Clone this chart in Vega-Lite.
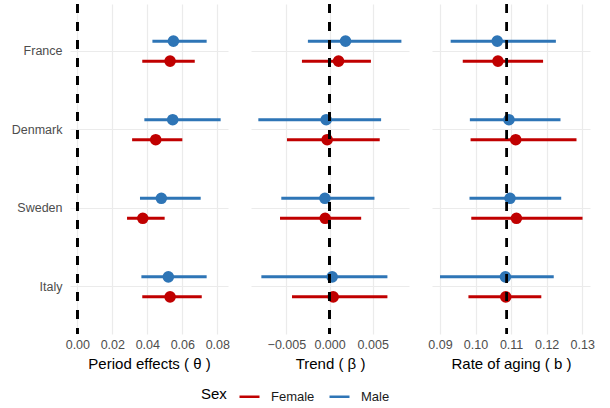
{
  "$schema": "https://vega.github.io/schema/vega-lite/v6.json",
  "padding": {"left": 11, "top": 3, "right": 5, "bottom": 5},
  "background": "white",
  "bounds": "flush",
  "config": {
    "font": "Liberation Sans",
    "view": {"stroke": null},
    "concat": {"spacing": 23},
    "axis": {"grid": true, "gridColor": "#EBEBEB", "gridWidth": 1.2, "domain": false, "ticks": false, "labelColor": "#4D4D4D", "labelFontSize": 12.5, "titleColor": "#000000", "titleFontSize": 15, "titleFontWeight": "normal", "labelFont": "Liberation Sans", "titleFont": "Liberation Sans", "labelOverlap": false, "labelFlush": false, "labelBound": false},
    "legend": {"orient": "none", "legendX": 131, "legendY": 381, "direction": "horizontal", "titleOrient": "left", "titleFontSize": 15, "titleFontWeight": "normal", "titleColor": "#000000", "titlePadding": 11, "labelFontSize": 13, "labelColor": "#1A1A1A", "symbolType": "stroke", "symbolStrokeWidth": 2.5, "symbolSize": 400, "columnPadding": 9, "labelOffset": 10}
  },
  "datasets": {
    "est": [
      {"panel": "theta", "country": "France", "sex": "Male", "est": 0.0549, "lo": 0.0429, "hi": 0.0739},
      {"panel": "theta", "country": "France", "sex": "Female", "est": 0.0530, "lo": 0.0371, "hi": 0.0671},
      {"panel": "theta", "country": "Denmark", "sex": "Male", "est": 0.0545, "lo": 0.0383, "hi": 0.0819},
      {"panel": "theta", "country": "Denmark", "sex": "Female", "est": 0.0448, "lo": 0.0313, "hi": 0.0600},
      {"panel": "theta", "country": "Sweden", "sex": "Male", "est": 0.0480, "lo": 0.0358, "hi": 0.0705},
      {"panel": "theta", "country": "Sweden", "sex": "Female", "est": 0.0374, "lo": 0.0284, "hi": 0.0499},
      {"panel": "theta", "country": "Italy", "sex": "Male", "est": 0.0520, "lo": 0.0366, "hi": 0.0739},
      {"panel": "theta", "country": "Italy", "sex": "Female", "est": 0.0530, "lo": 0.0371, "hi": 0.0711},
      {"panel": "beta", "country": "France", "sex": "Male", "est": 0.00185, "lo": -0.00251, "hi": 0.00832},
      {"panel": "beta", "country": "France", "sex": "Female", "est": 0.00104, "lo": -0.00320, "hi": 0.00479},
      {"panel": "beta", "country": "Denmark", "sex": "Male", "est": -0.00039, "lo": -0.00825, "hi": 0.00597},
      {"panel": "beta", "country": "Denmark", "sex": "Female", "est": -0.00028, "lo": -0.00493, "hi": 0.00581},
      {"panel": "beta", "country": "Sweden", "sex": "Male", "est": -0.00054, "lo": -0.00559, "hi": 0.00520},
      {"panel": "beta", "country": "Sweden", "sex": "Female", "est": -0.00051, "lo": -0.00574, "hi": 0.00366},
      {"panel": "beta", "country": "Italy", "sex": "Male", "est": 0.00030, "lo": -0.00790, "hi": 0.00670},
      {"panel": "beta", "country": "Italy", "sex": "Female", "est": 0.00042, "lo": -0.00435, "hi": 0.00670},
      {"panel": "b", "country": "France", "sex": "Male", "est": 0.1061, "lo": 0.0930, "hi": 0.1226},
      {"panel": "b", "country": "France", "sex": "Female", "est": 0.1063, "lo": 0.0964, "hi": 0.1190},
      {"panel": "b", "country": "Denmark", "sex": "Male", "est": 0.1094, "lo": 0.0984, "hi": 0.1239},
      {"panel": "b", "country": "Denmark", "sex": "Female", "est": 0.1113, "lo": 0.0986, "hi": 0.1284},
      {"panel": "b", "country": "Sweden", "sex": "Male", "est": 0.1097, "lo": 0.0983, "hi": 0.1241},
      {"panel": "b", "country": "Sweden", "sex": "Female", "est": 0.1115, "lo": 0.0988, "hi": 0.1301},
      {"panel": "b", "country": "Italy", "sex": "Male", "est": 0.1084, "lo": 0.0900, "hi": 0.1220},
      {"panel": "b", "country": "Italy", "sex": "Female", "est": 0.1085, "lo": 0.0980, "hi": 0.1185}
    ]
  },
  "hconcat": [
    {
      "width": 158, "height": 330,
      "data": {"name": "est"},
      "transform": [{"filter": "datum.panel === 'theta'"}],
      "resolve": {"axis": {"x": "independent"}},
      "encoding": {
        "y": {"field": "country", "type": "nominal", "sort": ["France", "Denmark", "Sweden", "Italy"], "scale": {"type": "band", "paddingInner": 0, "paddingOuter": 0.1}, "axis": {"title": null, "bandPosition": 0.5, "labelPadding": 8}},
        "yOffset": {"field": "sex", "type": "nominal", "sort": ["Male", "Female"], "scale": {"domain": ["Male", "Female"], "paddingInner": 0, "paddingOuter": 0.964}}
      },
      "layer": [
        {"mark": {"type": "rule", "strokeWidth": 3}, "encoding": {
          "x": {"field": "lo", "type": "quantitative", "scale": {"domain": [-0.0042, 0.0861], "nice": false, "zero": false}, "axis": {"title": "Period effects ( θ )", "values": [0, 0.02, 0.04, 0.06, 0.08], "format": ".2f", "labelPadding": 4, "titlePadding": 6}},
          "x2": {"field": "hi"},
          "color": {"field": "sex", "type": "nominal", "scale": {"domain": ["Female", "Male"], "range": ["#C00000", "#2E75B6"]}, "legend": {"title": "Sex"}}}},
        {"mark": {"type": "point", "filled": true, "size": 135, "opacity": 1}, "encoding": {
          "x": {"field": "est", "type": "quantitative", "axis": {"orient": "top", "values": [0.01, 0.03, 0.05, 0.07], "labels": false, "title": null, "gridWidth": 0.8}},
          "color": {"field": "sex", "type": "nominal"}}},
        {"mark": {"type": "rule", "strokeDash": [9, 9], "strokeWidth": 2, "color": "black"}, "encoding": {"x": {"datum": 0, "axis": null}, "y": {"value": 0}, "y2": {"value": 330}, "yOffset": null}}
      ]
    },
    {
      "width": 158, "height": 330,
      "data": {"name": "est"},
      "transform": [{"filter": "datum.panel === 'beta'"}],
      "resolve": {"axis": {"x": "independent"}},
      "encoding": {
        "y": {"field": "country", "type": "nominal", "sort": ["France", "Denmark", "Sweden", "Italy"], "scale": {"type": "band", "paddingInner": 0, "paddingOuter": 0.1}, "axis": {"title": null, "bandPosition": 0.5, "labels": false}},
        "yOffset": {"field": "sex", "type": "nominal", "sort": ["Male", "Female"], "scale": {"domain": ["Male", "Female"], "paddingInner": 0, "paddingOuter": 0.964}}
      },
      "layer": [
        {"mark": {"type": "rule", "strokeWidth": 3}, "encoding": {
          "x": {"field": "lo", "type": "quantitative", "scale": {"domain": [-0.0091, 0.0092], "nice": false, "zero": false}, "axis": {"title": "Trend ( β )", "values": [-0.005, 0, 0.005], "labelExpr": "replace(format(datum.value, '.3f'), '-', '−')", "labelPadding": 4, "titlePadding": 6}},
          "x2": {"field": "hi"},
          "color": {"field": "sex", "type": "nominal"}}},
        {"mark": {"type": "point", "filled": true, "size": 135, "opacity": 1}, "encoding": {
          "x": {"field": "est", "type": "quantitative", "axis": {"orient": "top", "values": [-0.0075, -0.0025, 0.0025, 0.0075], "labels": false, "title": null, "gridWidth": 0.8}},
          "color": {"field": "sex", "type": "nominal"}}},
        {"mark": {"type": "rule", "strokeDash": [9, 9], "strokeWidth": 2, "color": "black"}, "encoding": {"x": {"datum": 0, "axis": null}, "y": {"value": 0}, "y2": {"value": 330}, "yOffset": null}}
      ]
    },
    {
      "width": 158, "height": 330,
      "data": {"name": "est"},
      "transform": [{"filter": "datum.panel === 'b'"}],
      "resolve": {"axis": {"x": "independent"}},
      "encoding": {
        "y": {"field": "country", "type": "nominal", "sort": ["France", "Denmark", "Sweden", "Italy"], "scale": {"type": "band", "paddingInner": 0, "paddingOuter": 0.1}, "axis": {"title": null, "bandPosition": 0.5, "labels": false}},
        "yOffset": {"field": "sex", "type": "nominal", "sort": ["Male", "Female"], "scale": {"domain": ["Male", "Female"], "paddingInner": 0, "paddingOuter": 0.964}}
      },
      "layer": [
        {"mark": {"type": "rule", "strokeWidth": 3}, "encoding": {
          "x": {"field": "lo", "type": "quantitative", "scale": {"domain": [0.08775, 0.1322], "nice": false, "zero": false}, "axis": {"title": "Rate of aging ( b )", "values": [0.09, 0.1, 0.11, 0.12, 0.13], "format": ".2f", "labelPadding": 4, "titlePadding": 6}},
          "x2": {"field": "hi"},
          "color": {"field": "sex", "type": "nominal"}}},
        {"mark": {"type": "point", "filled": true, "size": 135, "opacity": 1}, "encoding": {
          "x": {"field": "est", "type": "quantitative", "axis": {"orient": "top", "values": [0.095, 0.105, 0.115, 0.125], "labels": false, "title": null, "gridWidth": 0.8}},
          "color": {"field": "sex", "type": "nominal"}}},
        {"mark": {"type": "rule", "strokeDash": [9, 9], "strokeWidth": 2, "color": "black"}, "encoding": {"x": {"datum": 0.1088, "axis": null}, "y": {"value": 0}, "y2": {"value": 330}, "yOffset": null}}
      ]
    }
  ]
}
